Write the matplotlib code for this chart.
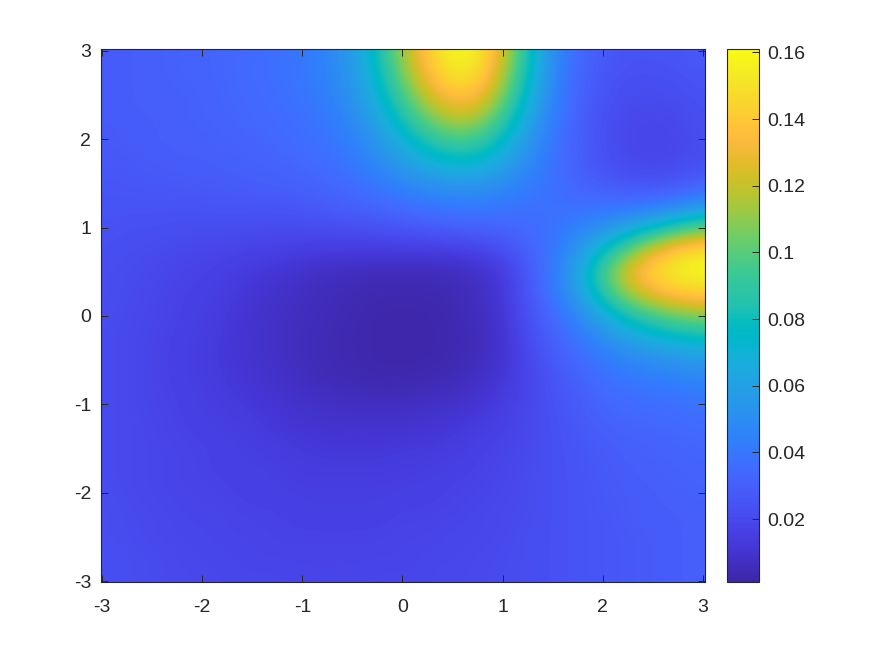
"""Heat map of a surface with two bumps, MATLAB parula look."""

import matplotlib

matplotlib.use("Agg")
import numpy as np
import matplotlib.pyplot as plt
from matplotlib.colors import LinearSegmentedColormap, Normalize

# values estimated from the colours on a 0.25 grid, x = -3..3, rows y = 3..-3
z_rows = [
    [.028, .029, .030, .031, .032, .033, .035, .037, .040, .046, .057, .080, .112, .142, .160, .157, .125, .082, .050, .034, .028, .025, .025, .026, .028],
    [.028, .029, .030, .031, .032, .033, .035, .037, .040, .045, .055, .076, .106, .135, .153, .150, .118, .078, .048, .033, .026, .023, .023, .024, .026],
    [.028, .029, .030, .030, .031, .033, .034, .036, .039, .044, .052, .070, .095, .122, .139, .136, .107, .072, .046, .032, .025, .021, .021, .022, .024],
    [.028, .029, .029, .030, .031, .032, .034, .035, .037, .041, .048, .063, .083, .105, .119, .116, .092, .064, .043, .031, .023, .020, .019, .020, .023],
    [.027, .028, .029, .030, .030, .031, .032, .034, .036, .039, .044, .055, .070, .086, .096, .094, .077, .056, .040, .030, .023, .019, .018, .019, .022],
    [.027, .027, .028, .029, .029, .030, .031, .032, .034, .036, .040, .048, .058, .068, .075, .074, .063, .049, .038, .030, .024, .020, .019, .020, .023],
    [.026, .026, .027, .027, .028, .028, .029, .030, .031, .033, .036, .041, .047, .052, .055, .055, .050, .043, .037, .032, .028, .025, .024, .026, .030],
    [.025, .025, .025, .025, .025, .026, .026, .026, .027, .029, .031, .033, .036, .039, .041, .042, .040, .038, .037, .037, .037, .038, .040, .045, .052],
    [.024, .023, .023, .022, .022, .022, .021, .021, .021, .022, .023, .024, .026, .028, .030, .031, .032, .035, .038, .044, .052, .062, .075, .088, .100],
    [.023, .022, .021, .020, .019, .018, .017, .016, .015, .014, .014, .014, .014, .014, .015, .017, .022, .030, .039, .054, .075, .100, .125, .143, .152],
    [.022, .021, .020, .018, .017, .015, .013, .011, .009, .007, .006, .005, .005, .005, .006, .008, .013, .027, .041, .062, .095, .128, .148, .158, .161],
    [.022, .021, .019, .017, .016, .014, .011, .009, .007, .005, .004, .003, .003, .003, .004, .007, .012, .025, .039, .058, .086, .112, .130, .140, .144],
    [.022, .020, .019, .017, .015, .013, .010, .008, .006, .005, .003, .002, .002, .002, .003, .006, .011, .023, .034, .047, .064, .081, .094, .103, .108],
    [.021, .020, .018, .016, .015, .012, .010, .008, .006, .004, .003, .002, .002, .002, .003, .005, .010, .021, .030, .039, .050, .060, .068, .074, .077],
    [.021, .020, .018, .016, .014, .012, .010, .008, .006, .004, .003, .002, .002, .002, .003, .006, .010, .019, .027, .034, .040, .046, .050, .053, .056],
    [.021, .020, .018, .016, .015, .013, .011, .009, .007, .005, .004, .003, .003, .004, .005, .008, .012, .018, .025, .030, .036, .039, .041, .043, .045],
    [.021, .020, .018, .017, .015, .014, .012, .011, .009, .008, .007, .007, .007, .008, .009, .011, .015, .019, .024, .028, .033, .035, .036, .037, .039],
    [.021, .020, .019, .017, .016, .015, .014, .012, .011, .010, .010, .010, .010, .011, .012, .014, .016, .020, .023, .027, .030, .032, .033, .034, .035],
    [.021, .020, .019, .018, .017, .016, .015, .014, .013, .012, .012, .012, .013, .013, .014, .016, .018, .020, .023, .026, .028, .030, .031, .032, .033],
    [.021, .020, .019, .018, .017, .016, .016, .015, .014, .014, .014, .014, .014, .015, .016, .017, .019, .021, .023, .025, .027, .029, .030, .031, .032],
    [.022, .020, .019, .018, .018, .017, .016, .016, .015, .015, .015, .015, .016, .016, .017, .018, .019, .021, .023, .025, .027, .028, .029, .030, .031],
    [.022, .021, .020, .019, .018, .018, .017, .017, .016, .016, .016, .016, .017, .017, .018, .019, .020, .021, .023, .025, .026, .028, .029, .029, .030],
    [.022, .021, .020, .019, .019, .018, .018, .017, .017, .017, .017, .017, .018, .018, .019, .019, .020, .022, .023, .025, .026, .027, .028, .029, .030],
    [.023, .022, .021, .020, .019, .019, .018, .018, .018, .018, .018, .018, .018, .019, .019, .020, .021, .022, .023, .025, .026, .027, .028, .029, .030],
    [.023, .022, .021, .020, .020, .019, .019, .019, .018, .018, .018, .019, .019, .019, .020, .020, .021, .022, .023, .025, .026, .027, .028, .029, .030],
]

axis_ticks = [-3, -2, -1, 0, 1, 2, 3]
cbar_ticks = [0.02, 0.04, 0.06, 0.08, 0.1, 0.12, 0.14, 0.16]
cbar_labels = ["0.02", "0.04", "0.06", "0.08", "0.1", "0.12", "0.14", "0.16"]

# parula anchors
PARULA = [
    (0.2422, 0.1504, 0.6603), (0.2504, 0.1650, 0.7076), (0.2578, 0.1818, 0.7511), (0.2647, 0.1978, 0.7952),
    (0.2706, 0.2147, 0.8364), (0.2751, 0.2342, 0.8710), (0.2783, 0.2559, 0.8991), (0.2803, 0.2782, 0.9221),
    (0.2813, 0.3006, 0.9414), (0.2810, 0.3228, 0.9579), (0.2795, 0.3447, 0.9717), (0.2760, 0.3667, 0.9829),
    (0.2699, 0.3892, 0.9906), (0.2602, 0.4123, 0.9952), (0.2440, 0.4358, 0.9988), (0.2206, 0.4603, 0.9973),
    (0.1963, 0.4847, 0.9892), (0.1834, 0.5074, 0.9798), (0.1786, 0.5289, 0.9682), (0.1764, 0.5499, 0.9520),
    (0.1687, 0.5703, 0.9359), (0.1540, 0.5902, 0.9218), (0.1460, 0.6091, 0.9079), (0.1380, 0.6276, 0.8973),
    (0.1248, 0.6459, 0.8883), (0.1113, 0.6635, 0.8763), (0.0952, 0.6798, 0.8598), (0.0689, 0.6948, 0.8394),
    (0.0297, 0.7082, 0.8163), (0.0036, 0.7203, 0.7917), (0.0067, 0.7312, 0.7660), (0.0433, 0.7411, 0.7394),
    (0.0964, 0.7500, 0.7120), (0.1408, 0.7584, 0.6842), (0.1717, 0.7670, 0.6554), (0.1938, 0.7758, 0.6251),
    (0.2161, 0.7843, 0.5923), (0.2470, 0.7918, 0.5567), (0.2906, 0.7973, 0.5188), (0.3406, 0.8008, 0.4789),
    (0.3909, 0.8029, 0.4354), (0.4456, 0.8024, 0.3909), (0.5044, 0.7993, 0.3480), (0.5616, 0.7942, 0.3045),
    (0.6174, 0.7876, 0.2612), (0.6720, 0.7793, 0.2227), (0.7242, 0.7698, 0.1910), (0.7738, 0.7598, 0.1646),
    (0.8203, 0.7498, 0.1535), (0.8634, 0.7406, 0.1596), (0.9035, 0.7330, 0.1774), (0.9393, 0.7288, 0.2100),
    (0.9728, 0.7298, 0.2394), (0.9956, 0.7434, 0.2371), (0.9970, 0.7659, 0.2199), (0.9952, 0.7893, 0.2028),
    (0.9892, 0.8136, 0.1885), (0.9786, 0.8386, 0.1766), (0.9676, 0.8639, 0.1643), (0.9610, 0.8890, 0.1537),
    (0.9597, 0.9135, 0.1423), (0.9628, 0.9373, 0.1265), (0.9691, 0.9606, 0.1064), (0.9769, 0.9839, 0.0805),
]

W, H = 875, 656
DARK = "#262626"
VMIN, VMAX = 0.0011, 0.161

plt.rcParams["font.family"] = ["Liberation Sans", "DejaVu Sans"]
plt.rcParams["axes.unicode_minus"] = False


def main():
    fig = plt.figure(figsize=(W / 100, H / 100), dpi=100)

    # axes position in pixels
    ax = fig.add_axes([101 / W, 1 - 582 / H, (705 - 101) / W, (582 - 49) / H])
    cax = fig.add_axes([727 / W, 1 - 582 / H, (759 - 727) / W, (582 - 49) / H])

    cmap = LinearSegmentedColormap.from_list("parula", PARULA, N=256)

    # blending on the values keeps the transition colours true to parula
    image = ax.imshow(
        np.array(z_rows),
        cmap=cmap,
        norm=Normalize(VMIN, VMAX),
        extent=(-3.125, 3.125, -3.125, 3.125),
        interpolation="bicubic",
        interpolation_stage="data",
        aspect="auto",
    )
    ax.set_xlim(-3.01, 3.02)
    ax.set_ylim(-3.01, 3.02)
    ax.set_xticks(axis_ticks)
    ax.set_yticks(axis_ticks)
    ax.tick_params(direction="in", length=5, width=0.7, color=DARK, labelcolor=DARK,
                   labelsize=14, top=True, right=True)
    ax.tick_params(axis="x", pad=12)
    ax.tick_params(axis="y", pad=7)
    for spine in ax.spines.values():
        spine.set_linewidth(0.8)
        spine.set_color(DARK)

    cbar = fig.colorbar(image, cax=cax)
    cbar.set_ticks(cbar_ticks, labels=cbar_labels)
    cax.tick_params(direction="in", length=5, width=0.7, color=DARK, labelcolor=DARK,
                    labelsize=14, pad=6)
    cbar.outline.set_linewidth(0.8)
    cbar.outline.set_edgecolor(DARK)

    fig.savefig("out.png", dpi=100)


if __name__ == "__main__":
    main()
